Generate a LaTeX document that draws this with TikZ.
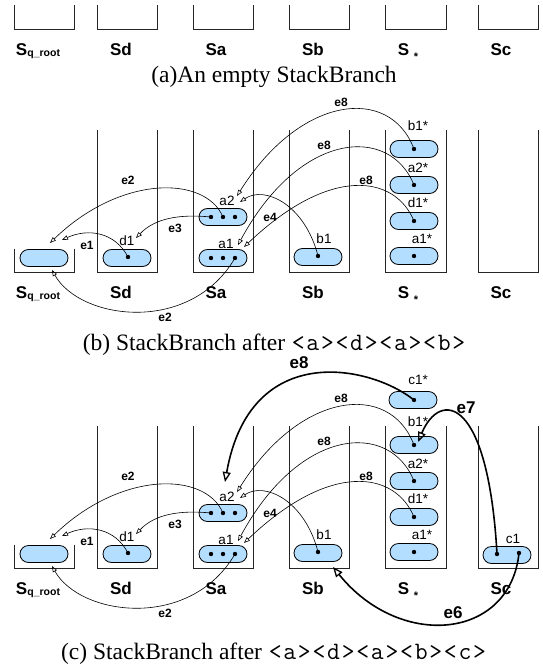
\documentclass[tikz,border=0pt]{standalone}
\usepackage{fontspec}
\setmainfont{Liberation Serif}
\setsansfont{Liberation Sans}
\newcommand\mc[1]{\makebox[14.6pt]{\ttfamily\fontsize{25}{25}\selectfont#1}}
\usetikzlibrary{arrows.meta,calc}
\definecolor{nodeblue}{RGB}{179,222,255}
\tikzset{
 box/.style={line width=0.9pt, draw=black!85},
 nd/.style={draw=black, line width=0.8pt, fill=nodeblue, rounded corners=8.5pt, minimum width=48pt, minimum height=17pt, inner sep=0pt},
 dotc/.style={circle, fill=black, inner sep=0pt, minimum size=4.4pt},
 conn/.style={line width=0.6pt, -{Triangle[open,length=6pt,width=4.5pt]}},
 bigconn/.style={line width=1.6pt, -{Triangle[open,length=10pt,width=8pt,line width=1.3pt]}},
 elab/.style={font=\sffamily\bfseries\fontsize{12}{12}\selectfont, inner sep=0pt},
 biglab/.style={font=\sffamily\bfseries\fontsize{17}{17}\selectfont, inner sep=0pt},
 nlab/.style={font=\sffamily\fontsize{13.5}{13.5}\selectfont, inner sep=0pt},
 slab/.style={font=\sffamily\bfseries\fontsize{17}{17}\selectfont, inner sep=0pt, anchor=base},
 captxt/.style={font=\fontsize{23.5}{24}\selectfont, inner sep=0pt, anchor=base},
}
\newcommand\stacklabels[1]{%
 \node[slab] (#1Lq) at (38,298) {S\raisebox{-1pt}{\fontsize{10.5}{10.5}\selectfont q\_root}};
 \node[slab] (#1Ld) at (121,298) {Sd};
 \node[slab] (#1La) at (216,298) {Sa};
 \node[slab] (#1Lb) at (313,298) {Sb};
 \node[slab] (#1Ls) at (408,298) {S \raisebox{-5pt}{\fontsize{11}{11}\selectfont *}};
 \node[slab] (#1Lc) at (501,298) {Sc};
}
\newcommand\branchpart[1]{%
 \draw[box] (14,249) -- (14,272) -- (74,272) -- (74,249);
 \foreach \xa/\xb in {97/157,193/253,289/349,385/446,478/538} {\draw[box] (\xa,130) -- (\xa,272) -- (\xb,272) -- (\xb,130);}
 \node[nd] (#1q) at (44,258) {};
 \node[nd] (#1d1) at (127,258) {};
 \node[nd] (#1a2) at (223,217) {};
 \node[nd] (#1a1) at (223,258) {};
 \node[nd] (#1b1) at (318,257) {};
 \node[nd] (#1sb1) at (414,149) {};
 \node[nd] (#1sa2) at (414,185) {};
 \node[nd] (#1sd1) at (414,221) {};
 \node[nd] (#1sa1) at (414,256) {};
 \node[dotc] (#1d1o) at (128,257) {};
 \node[dotc] (#1a2l) at (211,217) {};
 \node[dotc] (#1a2m) at (223,217) {};
 \node[dotc] (#1a2r) at (235,217) {};
 \node[dotc] (#1a1l) at (211,258) {};
 \node[dotc] (#1a1m) at (223,258) {};
 \node[dotc] (#1a1r) at (235,258) {};
 \node[dotc] (#1b1o) at (318,256) {};
 \node[dotc] (#1sb1o) at (414,149) {};
 \node[dotc] (#1sa2o) at (414,185) {};
 \node[dotc] (#1sd1o) at (414,221) {};
 \node[dotc] (#1sa1o) at (414,256) {};
 \node[nlab] (#1Nd1) at (127,241) {d1};
 \node[nlab] (#1Na2) at (227,201) {a2};
 \node[nlab] (#1Na1) at (226,244) {a1};
 \node[nlab] (#1Nb1) at (324,239) {b1};
 \node[nlab] (#1Nsb1) at (418,126) {b1*};
 \node[nlab] (#1Nsa2) at (418,168) {a2*};
 \node[nlab] (#1Nsd1) at (418,203) {d1*};
 \node[nlab] (#1Nsa1) at (422,239) {a1*};
 \coordinate (#1tq1) at (62,240);
 \coordinate (#1tq2) at (50,243);
 \coordinate (#1tq3) at (52,270);
 \coordinate (#1td1) at (136,238);
 \coordinate (#1ta2a) at (237,196);
 \coordinate (#1ta2b) at (240,202);
 \coordinate (#1ta1a) at (238,245);
 \coordinate (#1ta1b) at (244,247);
 \draw[conn] (#1d1o.center) .. controls (115,232) and (88,228) .. (#1tq1);
 \draw[conn] (#1a2m.center) .. controls (205,175) and (120,175) .. (#1tq2);
 \draw[conn] (#1a2l.center) .. controls (180,214) and (155,218) .. (#1td1);
 \draw[conn] (#1a1r.center) .. controls (190,335) and (80,320) .. (#1tq3);
 \draw[conn] (#1b1o.center) .. controls (305,205) and (265,185) .. (#1ta2b);
 \draw[conn] (#1sb1o.center) .. controls (390,85) and (300,95) .. (#1ta2a);
 \draw[conn] (#1sa2o.center) .. controls (390,125) and (300,130) .. (#1ta1a);
 \draw[conn] (#1sd1o.center) .. controls (395,175) and (330,165) .. (#1ta1b);
 \node[elab] (#1Ee1) at (87,245) {e1};
 \node[elab] (#1Ee2a) at (128,180) {e2};
 \node[elab] (#1Ee3) at (175,228) {e3};
 \node[elab] (#1Ee2b) at (165,317) {e2};
 \node[elab] (#1Ee4) at (270,217) {e4};
 \node[elab] (#1Ee8a) at (341,102) {e8};
 \node[elab] (#1Ee8b) at (324,145) {e8};
 \node[elab] (#1Ee8c) at (366,180) {e8};
}
\begin{document}
\begin{tikzpicture}[x=1pt,y=-1pt]
\useasboundingbox (0,0) rectangle (542,666);
% (a)
\foreach \xa/\xb in {14/74,97/157,193/253,289/349,385/446,478/538} {\draw[box] (\xa,5) -- (\xa,29) -- (\xb,29) -- (\xb,5);}
\begin{scope}[yshift=242pt]
\stacklabels{a}
\end{scope}
\node[captxt] (capa) at (274,83) {(a)An empty StackBranch};
% (b)
\branchpart{b}
\stacklabels{b}
\node[captxt] (capb) at (274.5,350) {(b) StackBranch after \mc{<}\mc{a}\mc{>}\mc{<}\mc{d}\mc{>}\mc{<}\mc{a}\mc{>}\mc{<}\mc{b}\mc{>}};
% (c)
\begin{scope}[yshift=-296pt]
\branchpart{c}
\stacklabels{c}
\end{scope}
\node[nd] (cc1s) at (413,400) {};
\node[dotc] (cc1so) at (414,400) {};
\node[nlab] (cNc1s) at (418,380) {c1*};
\node[nd] (cc1) at (507,555) {};
\node[dotc] (cc1l) at (497,554) {};
\node[dotc] (cc1r) at (519,553) {};
\node[nlab] (cNc1) at (513,539) {c1};
\coordinate (cbig8) at (225,482);
\coordinate (cbig7) at (418,442);
\coordinate (cbig6) at (333,567);
\draw[bigconn] (cc1so.center) .. controls (370,365) and (250,340) .. (cbig8);
\draw[bigconn] (cc1l.center) .. controls (488,395) and (440,390) .. (cbig7);
\draw[bigconn] (cc1r.center) .. controls (510,640) and (400,650) .. (cbig6);
\node[biglab] (cEbig8) at (299,363) {e8};
\node[biglab] (cEbig7) at (466,408) {e7};
\node[biglab] (cEbig6) at (453,613) {e6};
\node[captxt] (capc) at (274,659) {(c) StackBranch after \mc{<}\mc{a}\mc{>}\mc{<}\mc{d}\mc{>}\mc{<}\mc{a}\mc{>}\mc{<}\mc{b}\mc{>}\mc{<}\mc{c}\mc{>}};
\end{tikzpicture}
\end{document}
